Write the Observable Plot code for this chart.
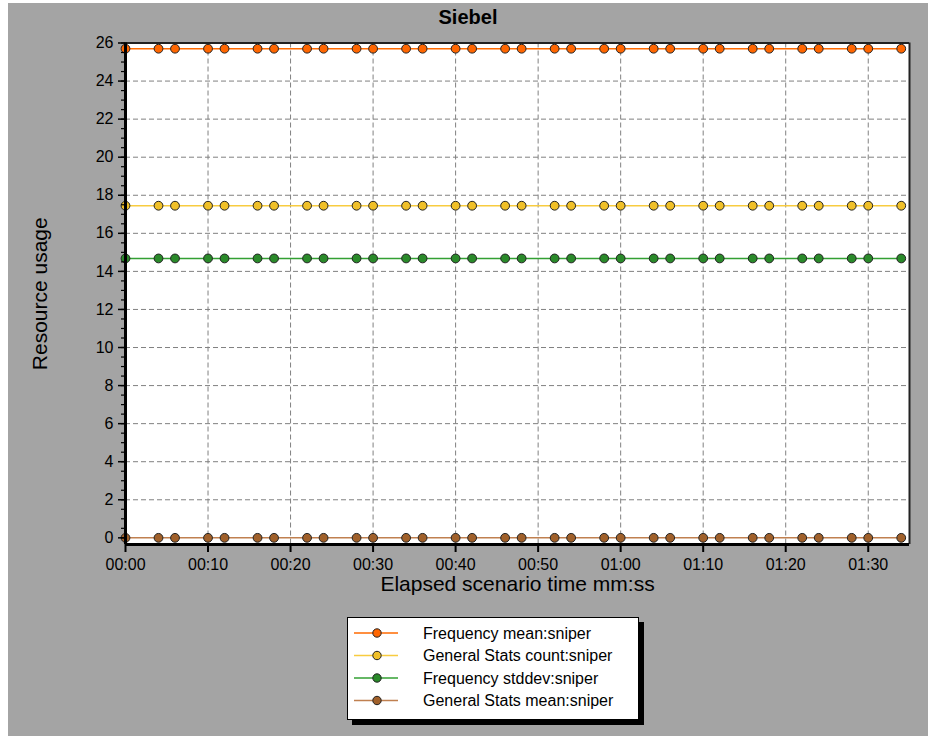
<!DOCTYPE html>
<html><head><meta charset="utf-8">
<script src="https://cdn.jsdelivr.net/npm/d3@7"></script>
<script src="https://cdn.jsdelivr.net/npm/@observablehq/plot@0.6"></script>
<style>
html,body{margin:0;padding:0;background:#fff;width:928px;height:736px;overflow:hidden;}
#wrap{position:absolute;left:8px;top:3px;width:920px;height:733px;background:#a4a4a4;font-family:"Liberation Sans",Arial,sans-serif;}
#title{position:absolute;left:0;width:920px;top:4px;line-height:20px;text-align:center;font-weight:bold;font-size:20px;color:#000;}
#chart{position:absolute;left:0;top:0;}
#legend{position:absolute;left:339px;top:614px;width:290px;height:101px;background:#fff;border:1px solid #000;box-shadow:5px 5px 0 #000;}
</style></head><body>
<div id="wrap"><div id="chart"></div><div id="title">Siebel</div><div id="legend"></div></div>
<script>
// ---- data ----
const times = [0,4,6,10,12,16,18,22,24,28,30,34,36,40,42,46,48,52,54,58,60,64,66,70,72,76,78,82,84,88,90,94];
const freqMean   = [25.7,25.7,25.7,25.7,25.7,25.7,25.7,25.7,25.7,25.7,25.7,25.7,25.7,25.7,25.7,25.7,25.7,25.7,25.7,25.7,25.7,25.7,25.7,25.7,25.7,25.7,25.7,25.7,25.7,25.7,25.7,25.7];
const statsCount = [17.45,17.45,17.45,17.45,17.45,17.45,17.45,17.45,17.45,17.45,17.45,17.45,17.45,17.45,17.45,17.45,17.45,17.45,17.45,17.45,17.45,17.45,17.45,17.45,17.45,17.45,17.45,17.45,17.45,17.45,17.45,17.45];
const freqStddev = [14.68,14.68,14.68,14.68,14.68,14.68,14.68,14.68,14.68,14.68,14.68,14.68,14.68,14.68,14.68,14.68,14.68,14.68,14.68,14.68,14.68,14.68,14.68,14.68,14.68,14.68,14.68,14.68,14.68,14.68,14.68,14.68];
const statsMean  = [0,0,0,0,0,0,0,0,0,0,0,0,0,0,0,0,0,0,0,0,0,0,0,0,0,0,0,0,0,0,0,0];
const seriesNames = ["Frequency mean:sniper","General Stats count:sniper","Frequency stddev:sniper","General Stats mean:sniper"];
const seriesValues = [freqMean, statsCount, freqStddev, statsMean];
const lineColors   = ["#ff6a00","#f8cc40","#33a033","#c08050"];
const markerColors = ["#ff6600","#f0c028","#2a8a2a","#a0602a"];
const xTicks = [0,10,20,30,40,50,60,70,80,90];
const xTickLabels = ["00:00","00:10","00:20","00:30","00:40","00:50","01:00","01:10","01:20","01:30"];
const yTicks = [0,2,4,6,8,10,12,14,16,18,20,22,24,26];
const xTitle = "Elapsed scenario time mm:ss";
const yTitle = "Resource usage";
const xDomain = [0, 95];
const yDomain = [-0.35, 26];

const rows = [];
seriesNames.forEach((name, i) => {
  times.forEach((t, j) => rows.push({series: name, idx: i, t, v: seriesValues[i][j]}));
});
const labelOf = new Map(xTicks.map((t, i) => [t, xTickLabels[i]]));

const chart = Plot.plot({
  width: 920, height: 610,
  marginLeft: 117, marginRight: 19, marginTop: 39.5, marginBottom: 69,
  style: {background: "transparent", fontFamily: "'Liberation Sans', Arial, sans-serif", color: "#000"},
  x: {domain: xDomain, axis: null, label: null},
  y: {domain: yDomain, axis: null, label: null},
  marks: [
    Plot.rect([0], {x1: xDomain[0], x2: xDomain[1], y1: yDomain[0], y2: yDomain[1], fill: "#fff"}),
    Plot.gridX(xTicks.filter(t => t > 0), {stroke: "#808080", strokeOpacity: 1, strokeDasharray: "5,3"}),
    Plot.gridY(yTicks.filter(t => t > 0 && t < 26), {stroke: "#808080", strokeOpacity: 1, strokeDasharray: "5,3"}),
    Plot.ruleY([yDomain[1]], {stroke: "#222", strokeWidth: 2}),
    Plot.ruleX([xDomain[1]], {stroke: "#222", strokeWidth: 2}),
    ...seriesNames.map((name, i) => Plot.line(rows.filter(r => r.idx === i), {x: "t", y: "v", stroke: lineColors[i], strokeWidth: 1.5})),
    ...seriesNames.map((name, i) => Plot.dot(rows.filter(r => r.idx === i), {x: "t", y: "v", r: 4.4, fill: markerColors[i], stroke: "#222", strokeWidth: 1})),
    Plot.ruleY([yDomain[0]], {stroke: "#000", strokeWidth: 3}),
    Plot.ruleX([xDomain[0]], {stroke: "#000", strokeWidth: 3}),
    Plot.axisY({ticks: d3.range(0, 26.01, 0.5), tickSize: 4, text: null, label: null, stroke: "#000", strokeWidth: 1.2}),
    Plot.axisY({ticks: yTicks, tickSize: 7, tickPadding: 5, fontSize: 16, label: null, stroke: "#000", strokeWidth: 1.5, tickFormat: d => String(d)}),
    Plot.axisX({ticks: xTicks, tickSize: 8, tickPadding: 6, fontSize: 16, label: null, stroke: "#000", strokeWidth: 2, tickFormat: d => labelOf.get(d)}),
    Plot.text([xTitle], {frameAnchor: "bottom", dy: 46, fontSize: 21, fill: "#000"}),
    Plot.text([yTitle], {frameAnchor: "left", textAnchor: "middle", rotate: -90, dx: -85, fontSize: 21, fill: "#000"})
  ]
});
document.getElementById("chart").appendChild(chart);

// ---- legend ----
const lg = d3.select("#legend").append("svg").attr("width", 290).attr("height", 101)
  .style("font-family", "'Liberation Sans', Arial, sans-serif");
seriesNames.forEach((name, i) => {
  const y = 15 + i * 22.5;
  const g = lg.append("g");
  g.append("line").attr("x1", 6).attr("x2", 50).attr("y1", y).attr("y2", y)
    .attr("stroke", lineColors[i]).attr("stroke-width", 1.5);
  g.append("circle").attr("cx", 29).attr("cy", y).attr("r", 4.2)
    .attr("fill", markerColors[i]).attr("stroke", "#222");
  g.append("text").attr("x", 75).attr("y", y).attr("dy", "0.35em")
    .attr("font-size", 16).attr("fill", "#000").text(name);
});
</script></body></html>
